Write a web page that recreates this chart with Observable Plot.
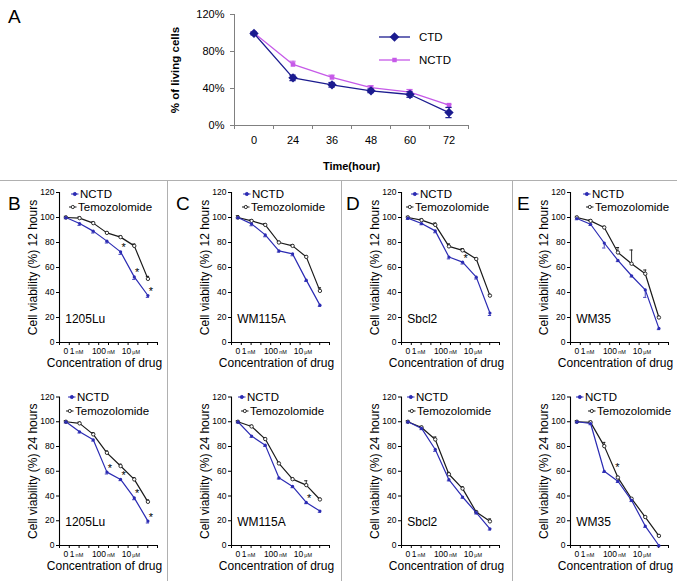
<!DOCTYPE html>
<html><head><meta charset="utf-8">
<script src="https://cdn.jsdelivr.net/npm/d3@7"></script>
<script src="https://cdn.jsdelivr.net/npm/@observablehq/plot@0.6"></script>
<style>
body{margin:0;background:#fff;}
#root{position:relative;width:677px;height:581px;overflow:hidden;background:#fff;}
#root svg{position:absolute;overflow:visible;}
</style></head><body><div id="root"></div>
<script>
// ---------- Panel A data ----------
const hours = ["0", "24", "36", "48", "60", "72"];
const ctdVals = [99.5, 51.5, 44, 37.5, 33.5, 14];
const ctdErr = [1.5, 3, 2.5, 2, 3, 5.5];
const nctdAVals = [100, 66, 52, 41, 36, 22];
const nctdAErr = [1, 3.5, 2.5, 2, 3, 1];
const yTicksA = [0, 40, 80, 120];

// ---------- Panels B-E data (7 concentration steps) ----------
const concSteps = [0, 1, 2, 3, 4, 5, 6];
const concTickPos = [0, 0.65, 2.96, 4.8];
const concTickNum = ["0", "1", "100", "10"];
const concTickUnit = ["", "nM", "nM", "μM"];
const yTicksSmall = [0, 20, 40, 60, 80, 100, 120];

const B12n = [100, 95.2, 89.1, 81.1, 72.5, 52.5, 37.6];
const B12t = [100, 99.5, 95.5, 87.7, 84.3, 77.3, 50.9];
const B24n = [100, 91.9, 85.4, 59.3, 53.4, 38.5, 19.7];
const B24t = [100, 98.7, 89.8, 74.9, 64.2, 53.4, 35.3];
const C12n = [100, 94.9, 86.1, 73.3, 70.9, 49.9, 29.9];
const C12t = [100, 97.3, 94.1, 80, 77.3, 68.5, 41.3];
const C24n = [100, 88.4, 81.1, 54.7, 47.7, 34.8, 27.8];
const C24t = [100, 96.2, 86, 66.3, 53.6, 48.8, 37.2];
const D12n = [99.5, 95.2, 89.3, 68.4, 64.3, 52.3, 23.6];
const D12t = [100, 97.9, 94.1, 76.9, 73.7, 66.8, 37.5];
const D24n = [100, 94.6, 77.6, 53.2, 39.2, 26.5, 13.5];
const D24t = [100, 95.4, 85.7, 57.6, 46, 27, 19.5];
const E12n = [99.2, 94.6, 79.6, 65.7, 53.4, 42.1, 11.3];
const E12t = [100, 97.3, 92, 72, 63, 55, 20];
const E24n = [100, 98.6, 60, 51.9, 36.5, 15.7, 0];
const E24t = [100, 99.5, 80.3, 54.9, 37.8, 23, 7.8];

const B12en = [1, 1.5, 1.5, 1.5, 2, 2, 1.5], B12et = [1, 1, 1, 1, 1, 1.5, 2];
const B24en = [1, 1, 1, 1.5, 1, 1.5, 1.5], B24et = [1, 1, 1.5, 1.5, 1.5, 1.5, 1.5];
const C12en = [1, 1.5, 1.5, 1, 1.5, 1, 1], C12et = [1.5, 1, 1, 1, 1, 1, 2.5];
const C24en = [1, 1, 1, 1, 1, 1, 1], C24et = [1, 1, 1, 1, 1, 3.5, 1];
const D12en = [1, 1, 1.5, 1.5, 1.5, 1.5, 2], D12et = [1, 1, 1.5, 2, 1.5, 1, 1];
const D24en = [1, 1, 1.5, 1, 1, 1, 1], D24et = [1, 1, 2, 1.5, 1.5, 1, 2];
const E12en = [1, 1, 4, 1, 1, 6, 1], E12et = [1, 1, 1, 4, 11, 3, 1];
const E24en = [1, 1, 1, 1, 1, 1, 1], E24et = [1, 1, 3, 1, 1, 1, 1];

const FONT = '"Liberation Sans", Arial, Helvetica, sans-serif';
const CTD_C = "#1b1b8f", NCTDA_C = "#c65ae8";
const BLUE = "#2b2bb3", BLACK = "#1a1a1a";

const root = document.getElementById("root");
function place(svg, left, top) {
  svg.style.left = left + "px";
  svg.style.top = top + "px";
  root.appendChild(svg);
}

// ---------- Panel A ----------
const rowsA = hours.map((h, i) => ({i, h, c: ctdVals[i], ce: ctdErr[i], n: nctdAVals[i], ne: nctdAErr[i]}));
const boundsA = d3.range(hours.length + 1).map(k => k - 0.5);
const capA = 0.08;
const plotA = Plot.plot({
  width: 677, height: 180,
  marginLeft: 234, marginRight: 209, marginTop: 14, marginBottom: 55,
  style: {fontFamily: FONT, fontSize: "11px", color: "#000", background: "transparent", overflow: "visible"},
  x: {domain: [-0.5, hours.length - 0.5], ticks: boundsA, tickFormat: () => "", tickSize: 4, label: null},
  y: {domain: [0, 120], ticks: yTicksA, tickFormat: d => d + "%", tickSize: 4, tickPadding: 6, label: null},
  marks: [
    Plot.ruleY([0], {stroke: "#808080"}),
    Plot.ruleX([-0.5], {stroke: "#808080"}),
    Plot.text(rowsA, {x: "i", y: 0, dy: 15, text: "h", fontSize: 11}),
    Plot.text(["Time(hour)"], {frameAnchor: "bottom", dy: 41, text: d => d, fontWeight: "bold", fontSize: 11, textAnchor: "middle", lineAnchor: "middle"}),
    Plot.text(["% of living cells"], {frameAnchor: "left", rotate: -90, dx: -59, text: d => d, fontWeight: "bold", fontSize: 11.5, textAnchor: "middle", lineAnchor: "middle"}),
    // NCTD
    Plot.ruleX(rowsA, {x: "i", y1: d => d.n, y2: d => d.n + d.ne, stroke: NCTDA_C}),
    Plot.ruleY(rowsA, {x1: d => d.i - capA, x2: d => d.i + capA, y: d => d.n + d.ne, stroke: NCTDA_C}),
    Plot.line(rowsA, {x: "i", y: "n", stroke: NCTDA_C, strokeWidth: 1.3}),
    Plot.dot(rowsA, {x: "i", y: "n", symbol: "square", r: 2.6, fill: NCTDA_C}),
    // CTD
    Plot.ruleX(rowsA, {x: "i", y1: d => d.c - d.ce, y2: d => d.c + d.ce, stroke: CTD_C, strokeWidth: 1.2}),
    Plot.ruleY(rowsA, {x1: d => d.i - capA, x2: d => d.i + capA, y: d => d.c + d.ce, stroke: CTD_C, strokeWidth: 1.2}),
    Plot.ruleY(rowsA, {x1: d => d.i - capA, x2: d => d.i + capA, y: d => d.c - d.ce, stroke: CTD_C, strokeWidth: 1.2}),
    Plot.line(rowsA, {x: "i", y: "c", stroke: CTD_C, strokeWidth: 1.3}),
    Plot.dot(rowsA, {x: "i", y: "c", symbol: "diamond2", r: 4.2, fill: CTD_C})
  ]
});
d3.select(plotA).selectAll("g[aria-label*='axis'] line, g[aria-label*='axis'] path").attr("stroke", "#808080");
place(plotA, 0, 0);

// ---------- Small panels ----------
const xDomSmall = [-0.47, 6.7];
const xTicksSmall = d3.range(11).map(k => xDomSmall[0] + k * (xDomSmall[1] - xDomSmall[0]) / 10);
const tickRows = concTickPos.map((p, k) => ({p, num: concTickNum[k], unit: concTickUnit[k]}));

const panels = [
  {x0: 59, row: 0, cell: "1205Lu", hrs: "12", n: B12n, t: B12t, en: B12en, et: B12et, stars: [{i: 4}, {i: 5}, {i: 6}], leg: [80, 78]},
  {x0: 59, row: 1, cell: "1205Lu", hrs: "24", n: B24n, t: B24t, en: B24en, et: B24et, stars: [{i: 3}, {i: 4}, {i: 5}, {i: 6}], leg: [77, 75]},
  {x0: 231, row: 0, cell: "WM115A", hrs: "12", n: C12n, t: C12t, en: C12en, et: C12et, stars: [], leg: [252, 251]},
  {x0: 231, row: 1, cell: "WM115A", hrs: "24", n: C24n, t: C24t, en: C24en, et: C24et, stars: [{i: 5}], leg: [247, 250]},
  {x0: 401, row: 0, cell: "Sbcl2", hrs: "12", n: D12n, t: D12t, en: D12en, et: D12et, stars: [{i: 4}], leg: [420, 415]},
  {x0: 401, row: 1, cell: "Sbcl2", hrs: "24", n: D24n, t: D24t, en: D24en, et: D24et, stars: [], leg: [416, 417]},
  {x0: 570, row: 0, cell: "WM35", hrs: "12", n: E12n, t: E12t, en: E12en, et: E12et, stars: [], leg: [592, 595]},
  {x0: 570, row: 1, cell: "WM35", hrs: "24", n: E24n, t: E24t, en: E24en, et: E24et, stars: [{i: 2, shift: 0.75}], leg: [585, 597]}
];

const cap = 0.12;
panels.forEach(c => {
  const top = c.row ? 380 : 180;
  const height = c.row ? 201 : 200;
  const y0 = c.row ? 545 : 342;
  const y120 = c.row ? 396.5 : 192;
  const rows = concSteps.map(i => ({i, n: c.n[i], t: c.t[i], en: c.en[i], et: c.et[i]}));
  const starRows = c.stars.map(s => ({x: s.i + (s.shift || 0), v: c.n[s.i]}));
  const plot = Plot.plot({
    width: 168, height,
    marginLeft: 55, marginRight: 15, marginTop: y120 - top, marginBottom: top + height - y0,
    style: {fontFamily: FONT, fontSize: "8.5px", color: "#000", background: "transparent", overflow: "visible"},
    x: {domain: xDomSmall, ticks: xTicksSmall, tickFormat: () => "", tickSize: 3, label: null},
    y: {domain: [0, 120], ticks: yTicksSmall, tickSize: 3, tickPadding: 2, label: null},
    marks: [
      Plot.ruleY([0], {stroke: "#000", strokeWidth: 1.1}),
      Plot.ruleX([xDomSmall[0]], {stroke: "#000", strokeWidth: 1.1}),
      // x tick labels
      Plot.text(tickRows.filter(d => d.unit === ""), {x: "p", y: 0, dy: 8.5, text: "num", fontSize: 8.5}),
      Plot.text(tickRows.filter(d => d.unit !== ""), {x: "p", y: 0, dy: 8.5, text: "num", fontSize: 8.5, textAnchor: "end", dx: -0.3}),
      Plot.text(tickRows.filter(d => d.unit !== ""), {x: "p", y: 0, dy: 9.5, text: "unit", fontSize: 5.5, textAnchor: "start", dx: 0.8}),
      Plot.text(["Concentration of drug"], {frameAnchor: "bottom", dy: 21, dx: -4, text: d => d, fontSize: 12, textAnchor: "middle", lineAnchor: "middle"}),
      Plot.text([`Cell viability (%) ${c.hrs} hours`], {frameAnchor: "left", rotate: -90, dx: -26, text: d => d, fontSize: 12, textAnchor: "middle", lineAnchor: "middle"}),
      Plot.text([c.cell], {x: () => -0.05, y: () => 19, text: d => d, textAnchor: "start", fontSize: 12}),
      // Temozolomide
      Plot.ruleX(rows, {x: "i", y1: "t", y2: d => d.t + d.et, stroke: BLACK, strokeWidth: 0.9}),
      Plot.ruleY(rows, {x1: d => d.i - cap, x2: d => d.i + cap, y: d => d.t + d.et, stroke: BLACK, strokeWidth: 0.9}),
      Plot.line(rows, {x: "i", y: "t", stroke: BLACK, strokeWidth: 1.2}),
      Plot.dot(rows, {x: "i", y: "t", r: 1.7, stroke: BLACK, fill: "#fff", strokeWidth: 0.9}),
      // NCTD
      Plot.ruleX(rows, {x: "i", y1: d => d.n - d.en, y2: "n", stroke: BLUE, strokeWidth: 0.9}),
      Plot.ruleY(rows, {x1: d => d.i - cap, x2: d => d.i + cap, y: d => d.n - d.en, stroke: BLUE, strokeWidth: 0.9}),
      Plot.line(rows, {x: "i", y: "n", stroke: BLUE, strokeWidth: 1.2}),
      Plot.dot(rows, {x: "i", y: "n", r: 1.6, fill: BLUE}),
      // significance stars
      Plot.text(starRows, {x: "x", y: "v", text: () => "*", dx: 3, dy: -4, fontSize: 11})
    ]
  });
  place(plot, c.x0 - 55, top);
});

// ---------- Overlay: separators, panel letters, legends ----------
const ov = d3.create("svg").attr("width", 677).attr("height", 581)
  .style("left", "0px").style("top", "0px").style("font-family", FONT);
ov.append("line").attr("x1", 0).attr("x2", 677).attr("y1", 180.5).attr("y2", 180.5).attr("stroke", "#b0b0b0");
[167.5, 341.5, 512.5].forEach(x => ov.append("line").attr("x1", x).attr("x2", x).attr("y1", 180).attr("y2", 581).attr("stroke", "#b0b0b0"));
[["A", 8, 23], ["B", 8, 210], ["C", 176, 210], ["D", 346, 210], ["E", 517, 210]].forEach(([t, x, y]) =>
  ov.append("text").attr("x", x).attr("y", y).attr("font-size", 19).text(t));

// Panel A legend
const legA = [["CTD", CTD_C, 37, "diamond"], ["NCTD", NCTDA_C, 60, "square"]];
legA.forEach(([name, col, y, sym]) => {
  ov.append("line").attr("x1", 379).attr("x2", 410).attr("y1", y).attr("y2", y).attr("stroke", col).attr("stroke-width", 1.3);
  const s = sym === "diamond" ? d3.symbol(d3.symbolDiamond2, 60)() : d3.symbol(d3.symbolSquare, 20)();
  ov.append("path").attr("d", s).attr("transform", `translate(394.5,${y})`).attr("fill", col);
  ov.append("text").attr("x", 419).attr("y", y).attr("dy", "0.35em").attr("font-size", 11.5).text(name);
});

// Small panel legends
panels.forEach(c => {
  const ys = c.row ? [397, 411] : [194, 207];
  [["NCTD", BLUE, c.leg[0], ys[0], true], ["Temozolomide", BLACK, c.leg[1], ys[1], false]].forEach(([name, col, x, y, filled]) => {
    ov.append("line").attr("x1", x - 9).attr("x2", x - 1.5).attr("y1", y).attr("y2", y).attr("stroke", col).attr("stroke-width", 1);
    ov.append("circle").attr("cx", x - 5.2).attr("cy", y).attr("r", 1.6)
      .attr("fill", filled ? col : "#fff").attr("stroke", col).attr("stroke-width", 0.9);
    ov.append("text").attr("x", x).attr("y", y).attr("dy", "0.35em").attr("font-size", 11.5).text(name);
  });
});
root.appendChild(ov.node());
</script>
</body></html>
